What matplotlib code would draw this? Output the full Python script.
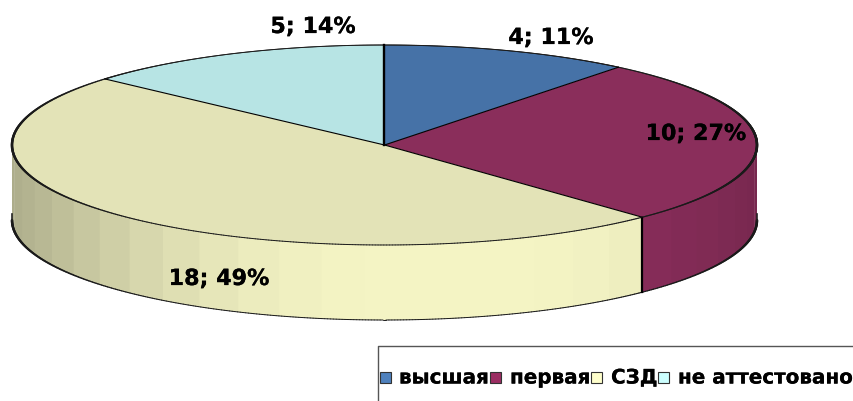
import numpy as np
from matplotlib import pyplot as plt
from matplotlib import colors as mcolors
from matplotlib import patheffects as pe
from matplotlib.collections import LineCollection
from matplotlib.patches import Rectangle

labels = ['высшая', 'первая', 'СЗД', 'не аттестовано']
values = [4, 10, 18, 5]
percents = [11, 27, 49, 14]

top_colors = ['#4672a7', '#8a2e5b', '#e3e3b7', '#b7e4e4']
side_colors = ['#4672a7', '#8a2e5b', '#f4f4c4', '#b7e4e4']
legend_colors = ['#4f81bd', '#9b2d62', '#ffffcc', '#ccffff']
label_pos = [(551, 38), (696, 134), (219, 279), (313, 27)]

# pie geometry in pixels
cx, cy = 384.5, 145
rx, ry = 372.5, 100
depth = 75
W, H = 854, 401
bold = [pe.withStroke(linewidth=0.15, foreground='black')]


def ell(deg):
    a = np.radians(deg)
    return cx + rx*np.sin(a), cy - ry*np.cos(a)


def arc(a0, a1, shift=0, zorder=5):
    # outline gets heavier where the rim turns steep, like the original render
    t = np.linspace(a0, a1, 400)
    x, y = ell(t)
    pts = np.c_[x, y+shift]
    segs = np.stack([pts[:-1], pts[1:]], axis=1)
    steep = np.abs(np.sin(np.radians((t[:-1]+t[1:])/2)))
    ax.add_collection(LineCollection(segs, linewidths=0.7+1.1*steep**6,
                                     colors='#1a1a1a', capstyle='round', zorder=zorder))


fig = plt.figure(figsize=(W/100, H/100), dpi=100)
ax = fig.add_axes([0, 0, 1, 1])
ax.set_xlim(0, W)
ax.set_ylim(H, 0)
ax.axis('off')

edges = np.cumsum([0] + values)/sum(values)*360

# side wall, shaded in strips
step = 7.0
for i in range(len(values)):
    a0 = max(edges[i], 90)
    a1 = min(edges[i+1], 270)
    if a1 <= a0:
        continue
    n = max(1, int(np.ceil((a1-a0)/step)))
    grid = np.linspace(a0, a1, n+1)
    base = np.array(mcolors.to_rgb(side_colors[i]))
    for s0, s1 in zip(grid[:-1], grid[1:]):
        t = np.linspace(s0, min(s1+0.4, a1), 6)
        x, y = ell(t)
        mid = np.sin(np.radians((s0+s1)/2))
        f = 1 - 0.29*mid**2 if mid < 0 else 1 - 0.13*mid**4
        ax.fill(np.r_[x, x[::-1]], np.r_[y, y[::-1]+depth], color=base*f, lw=0, zorder=1)

# bottom rim of the wall
arc(90, 270, shift=depth, zorder=2)

# short stubs of the two outer wall edges
for a in (90, 270):
    x, y = ell(a)
    ax.plot([x, x], [y, y+3], color='black', lw=1.5, zorder=2)
    ax.plot([x, x], [y+depth-6, y+depth], color='#222222', lw=1.2, zorder=2)

# wall seam between the second and third groups
x, y = ell(edges[2])
ax.plot([x, x], [y, y+depth], color='black', lw=1.6, zorder=3)

# top face
for i in range(len(values)):
    t = np.linspace(edges[i], edges[i+1], 200)
    x, y = ell(t)
    ax.fill(np.r_[cx, x], np.r_[cy, y], color=top_colors[i], lw=0, zorder=4)
    arc(edges[i], edges[i+1])
for e in edges[:-1]:
    x, y = ell(e)
    ax.plot([cx, x], [cy, y], color='black', lw=1.7 if e == 0 else 0.8, zorder=5)

for v, p, (lx, ly) in zip(values, percents, label_pos):
    ax.text(lx, ly, '%d; %d%%' % (v, p), fontsize=16, fontweight='bold', color='black',
            ha='center', va='center', zorder=6, family='DejaVu Sans', path_effects=bold)

# legend, frame runs off the canvas
ax.plot([378, 378, W], [H, 346, 346], color='#555555', lw=1.0, zorder=6)
swatch_x = [380, 490, 591, 658]
text_x = [399, 510, 611, 678]
for sx, tx, c, lab in zip(swatch_x, text_x, legend_colors, labels):
    ax.add_patch(Rectangle((sx, 372), 11, 11, facecolor=c, edgecolor='#333333', lw=0.8, zorder=6))
    ax.text(tx, 378, lab, fontsize=14.35, fontweight='bold', color='black', ha='left', va='center',
            zorder=6, family='DejaVu Sans', path_effects=bold)

fig.savefig('out.png', dpi=100)
